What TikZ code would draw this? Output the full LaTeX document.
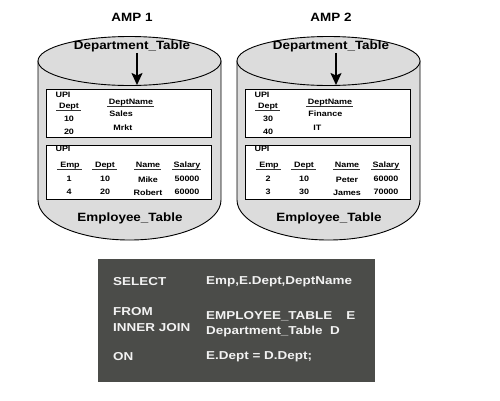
\documentclass[tikz,border=0pt]{standalone}
\usepackage{fontspec}
\setmainfont{Liberation Sans}
\usetikzlibrary{arrows,arrows.meta}

\definecolor{cylgray}{HTML}{DCDCDC}
\definecolor{sqlgray}{HTML}{4B4C49}
\definecolor{sqltext}{HTML}{F2F2F2}

\begin{document}
\begin{tikzpicture}[x=1pt,y=-1pt,>={Stealth[length=12pt,width=11pt,inset=2.5pt]},shorten >=1pt,
  title node/.style={font=\bfseries\fontsize{12}{14}\selectfont,xscale=1.12,inner sep=1pt},
  cell node/.style={font=\bfseries\fontsize{7.8}{9}\selectfont,xscale=1.15,inner sep=1pt,
    text height=5.6pt,text depth=1.6pt},
  head node/.style={cell node,minimum width=22pt},
  sql node/.style={font=\bfseries\fontsize{11.5}{13}\selectfont,xscale=1.17,text=sqltext,
    inner sep=0pt,anchor=west},
  table box/.style={draw,fill=white,line width=0.9pt,inner sep=0pt},
  cyl/.style={draw,fill=cylgray,line width=0.9pt},
  uline/.style={line width=1pt,draw=black!80}]

  \useasboundingbox (0,0) rectangle (500,400);

  % cylinders
  \path[cyl] (38,61) -- (38,200) arc[start angle=180,end angle=0,x radius=91.5,y radius=40]
    -- (221,61) -- cycle;
  \path[cyl] (129.5,61) ellipse[x radius=91.5,y radius=24.5];
  \path[cyl] (237,61) -- (237,200) arc[start angle=180,end angle=0,x radius=91.5,y radius=40]
    -- (420,61) -- cycle;
  \path[cyl] (328.5,61) ellipse[x radius=91.5,y radius=24.5];

  \node[title node] (amp1) at (132,17) {AMP 1};
  \node[title node] (amp2) at (331,17) {AMP 2};
  \node[title node] (dt1) at (132,46) {Department\_Table};
  \node[title node] (dt2) at (331,46) {Department\_Table};
  \node[title node] (et1) at (130,218) {Employee\_Table};
  \node[title node] (et2) at (329,218) {Employee\_Table};

  \node[table box,minimum width=165pt,minimum height=48pt] (dbox1) at (128.5,113) {};
  \node[table box,minimum width=165pt,minimum height=54pt] (ebox1) at (128.5,172) {};
  \node[table box,minimum width=165pt,minimum height=48pt] (dbox2) at (327.5,113) {};
  \node[table box,minimum width=165pt,minimum height=54pt] (ebox2) at (327.5,172) {};

  \coordinate (a1) at (137,86);
  \coordinate (a2) at (336,86);
  \draw[->,line width=1.8pt] (dt1.south -| a1) -- (a1);
  \draw[->,line width=1.8pt] (dt2.south -| a2) -- (a2);

  % AMP 1 tables
  \node[cell node] (dupi1) at (63,95) {UPI};
  \node[head node] (dh1) at (69,106) {Dept};
  \node[cell node] (d1a) at (69,119) {10};
  \node[cell node] (d1b) at (69,132) {20};
  \node[head node] (nh1) at (131,102) {DeptName};
  \node[cell node,anchor=west] (n1a) at (108,114) {Sales};
  \node[cell node,anchor=west] (n1b) at (112,128) {Mrkt};

  \node[cell node] (eupi1) at (63,149) {UPI};
  \node[head node] (eh1) at (70,165) {Emp};
  \node[head node] (edh1) at (105,165) {Dept};
  \node[head node] (enh1) at (148,165) {Name};
  \node[head node] (esh1) at (187,165) {Salary};
  \node[cell node] (e1a) at (69,179) {1};
  \node[cell node] (ed1a) at (105,179) {10};
  \node[cell node] (en1a) at (148,180) {Mike};
  \node[cell node] (es1a) at (187,179) {50000};
  \node[cell node] (e1b) at (69,192) {4};
  \node[cell node] (ed1b) at (105,192) {20};
  \node[cell node] (en1b) at (148,193) {Robert};
  \node[cell node] (es1b) at (187,192) {60000};

  % AMP 2 tables
  \node[cell node] (dupi2) at (262,95) {UPI};
  \node[head node] (dh2) at (268,106) {Dept};
  \node[cell node] (d2a) at (268,119) {30};
  \node[cell node] (d2b) at (268,132) {40};
  \node[head node] (nh2) at (330,102) {DeptName};
  \node[cell node,anchor=west] (n2a) at (307,114) {Finance};
  \node[cell node,anchor=west] (n2b) at (312,128) {IT};

  \node[cell node] (eupi2) at (262,149) {UPI};
  \node[head node] (eh2) at (269,165) {Emp};
  \node[head node] (edh2) at (304,165) {Dept};
  \node[head node] (enh2) at (347,165) {Name};
  \node[head node] (esh2) at (386,165) {Salary};
  \node[cell node] (e2a) at (268,179) {2};
  \node[cell node] (ed2a) at (304,179) {10};
  \node[cell node] (en2a) at (347,180) {Peter};
  \node[cell node] (es2a) at (386,179) {60000};
  \node[cell node] (e2b) at (268,192) {3};
  \node[cell node] (ed2b) at (304,192) {30};
  \node[cell node] (en2b) at (347,193) {James};
  \node[cell node] (es2b) at (386,192) {70000};

  \foreach \h in {dh1,nh1,eh1,edh1,enh1,esh1,dh2,nh2,eh2,edh2,enh2,esh2}
    \draw[uline] (\h.south west) -- (\h.south east);

  % query
  \node[fill=sqlgray,minimum width=277pt,minimum height=123pt,inner sep=0pt] (sql) at (236.5,320.5) {};
  \node[sql node] (sel) at (113,282) {SELECT};
  \node[sql node] (selv) at (206,282) {Emp,E.Dept,DeptName};
  \node[sql node] (from) at (113,312) {FROM};
  \node[sql node] (join) at (113,328) {INNER JOIN};
  \node[sql node] (fromv) at (206,316) {EMPLOYEE\_TABLE\hspace{1.05em}E};
  \node[sql node] (joinv) at (206,332) {Department\_Table\hspace{0.55em}D};
  \node[sql node] (on) at (113,357) {ON};
  \node[sql node] (onv) at (206,357) {E.Dept = D.Dept;};

\end{tikzpicture}
\end{document}
